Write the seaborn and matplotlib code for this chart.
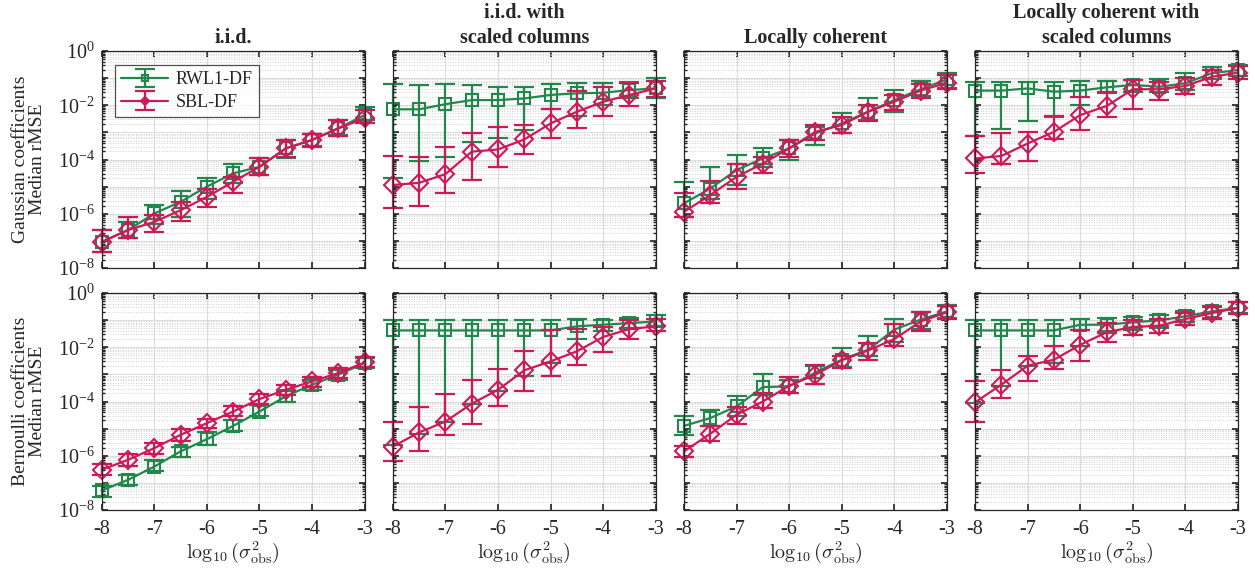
import numpy as np
import pandas as pd
import matplotlib
matplotlib.use("Agg")
import matplotlib.pyplot as plt
import matplotlib.ticker as mticker
from matplotlib.legend_handler import HandlerTuple
import seaborn as sns

# noise level (log10 of sigma^2_obs)
x_vals = [-8, -7.5, -7, -6.5, -6, -5.5, -5, -4.5, -4, -3.5, -3]

col_titles = ["i.i.d.", "i.i.d. with\nscaled columns",
              "Locally coherent", "Locally coherent with\nscaled columns"]
row_labels = ["Gaussian coefficients\nMedian rMSE", "Bernoulli coefficients\nMedian rMSE"]
methods = ["RWL1-DF", "SBL-DF"]

# all values are log10(rMSE); one list per column panel
rwl1_med_gauss = [
    [-7.04, -6.6, -5.99, -5.56, -5.0, -4.51, -4.27, -3.59, -3.28, -2.85, -2.36],
    [-2.15, -2.15, -1.96, -1.81, -1.81, -1.75, -1.62, -1.56, -1.54, -1.44, -1.38],
    [-5.62, -5.07, -4.39, -3.96, -3.59, -3.04, -2.67, -2.24, -1.81, -1.41, -1.05],
    [-1.46, -1.46, -1.38, -1.5, -1.46, -1.34, -1.25, -1.32, -1.19, -0.82, -0.7],
]
rwl1_lo_gauss = [
    [-7.4, -6.91, -6.36, -6.11, -5.44, -4.88, -4.58, -3.96, -3.5, -3.1, -2.55],
    [-4.7, -4.06, -3.92, -3.35, -3.22, -2.92, -2.12, -2.4, -1.99, -1.75, -1.75],
    [-6.11, -5.44, -4.94, -4.27, -4.02, -3.47, -3.04, -2.55, -2.24, -1.66, -1.38],
    [-3.14, -2.89, -2.57, -2.42, -1.99, -1.56, -1.5, -1.5, -1.44, -1.05, -0.92],
]
rwl1_hi_gauss = [
    [-6.58, -6.3, -5.68, -5.15, -4.7, -4.17, -3.96, -3.28, -3.06, -2.55, -2.05],
    [-1.22, -1.25, -1.22, -1.25, -1.34, -1.34, -1.22, -1.19, -1.17, -1.13, -1.01],
    [-4.82, -4.27, -3.84, -3.59, -3.28, -2.79, -2.3, -1.75, -1.44, -1.09, -0.82],
    [-1.13, -1.13, -1.13, -1.13, -1.09, -1.09, -1.07, -1.05, -0.82, -0.6, -0.52],
]
sbl_med_gauss = [
    [-7.04, -6.6, -6.3, -5.87, -5.38, -4.82, -4.27, -3.59, -3.28, -2.85, -2.48],
    [-4.94, -4.86, -4.54, -3.71, -3.63, -3.26, -2.67, -2.24, -1.87, -1.62, -1.38],
    [-5.93, -5.31, -4.64, -4.15, -3.59, -2.98, -2.73, -2.24, -1.87, -1.46, -1.17],
    [-3.96, -3.87, -3.41, -2.98, -2.36, -2.03, -1.41, -1.41, -1.29, -0.95, -0.8],
]
sbl_lo_gauss = [
    [-7.4, -6.91, -6.67, -6.26, -5.74, -5.23, -4.58, -3.9, -3.55, -3.14, -2.67],
    [-5.8, -5.72, -5.25, -4.76, -4.29, -3.78, -3.19, -2.85, -2.4, -2.03, -1.69],
    [-6.11, -5.62, -5.1, -4.51, -3.9, -3.28, -3.01, -2.57, -2.18, -1.75, -1.41],
    [-4.51, -4.17, -4.05, -3.26, -2.92, -2.45, -2.12, -1.81, -1.59, -1.25, -1.05],
]
sbl_hi_gauss = [
    [-6.58, -6.11, -6.05, -5.56, -5.1, -4.64, -3.96, -3.28, -3.06, -2.55, -2.18],
    [-3.87, -3.92, -3.53, -3.01, -2.79, -2.73, -2.15, -1.46, -1.32, -1.17, -1.09],
    [-5.25, -4.78, -4.17, -3.9, -3.28, -2.73, -2.45, -1.99, -1.62, -1.22, -0.89],
    [-3.14, -3.01, -2.98, -2.4, -1.71, -1.5, -1.07, -1.13, -1.01, -0.7, -0.55],
]

rwl1_med_bern = [
    [-7.28, -6.89, -6.4, -5.84, -5.39, -4.9, -4.37, -3.81, -3.38, -3.01, -2.58],
    [-1.38, -1.38, -1.38, -1.38, -1.38, -1.38, -1.38, -1.23, -1.17, -1.11, -1.05],
    [-4.9, -4.61, -4.18, -3.47, -3.44, -2.93, -2.46, -2.09, -1.35, -0.98, -0.68],
    [-1.38, -1.38, -1.38, -1.38, -1.17, -1.17, -1.08, -1.01, -0.86, -0.68, -0.55],
]
rwl1_lo_bern = [
    [-7.53, -7.07, -6.58, -6.03, -5.6, -5.07, -4.55, -4.0, -3.59, -3.2, -2.77],
    [-5.6, -5.19, -4.74, -4.08, -3.63, -3.05, -2.58, -1.7, -1.41, -1.29, -1.23],
    [-5.23, -4.92, -4.53, -3.75, -3.69, -3.35, -2.73, -2.34, -1.82, -1.33, -0.92],
    [-4.06, -3.44, -2.68, -2.58, -1.97, -1.48, -1.35, -1.29, -1.08, -0.92, -0.74],
]
rwl1_hi_bern = [
    [-7.11, -6.7, -6.17, -5.66, -5.14, -4.67, -4.12, -3.63, -3.2, -2.83, -2.4],
    [-1.01, -1.01, -1.01, -1.01, -1.01, -1.01, -1.01, -0.96, -0.98, -0.92, -0.8],
    [-4.55, -4.33, -3.79, -2.98, -3.2, -2.68, -2.03, -1.57, -0.96, -0.71, -0.43],
    [-1.01, -1.01, -1.01, -1.01, -0.96, -0.92, -0.89, -0.8, -0.68, -0.49, -0.34],
]
sbl_med_bern = [
    [-6.52, -6.15, -5.72, -5.23, -4.8, -4.37, -3.91, -3.57, -3.26, -2.95, -2.56],
    [-5.66, -5.14, -4.74, -4.08, -3.57, -2.85, -2.52, -2.15, -1.62, -1.33, -1.23],
    [-5.84, -5.19, -4.49, -4.0, -3.42, -3.01, -2.48, -2.12, -1.7, -1.05, -0.71],
    [-4.03, -3.38, -2.68, -2.46, -1.91, -1.45, -1.25, -1.21, -0.96, -0.74, -0.55],
]
sbl_lo_bern = [
    [-6.7, -6.37, -5.93, -5.47, -4.98, -4.55, -4.08, -3.75, -3.47, -3.14, -2.73],
    [-6.21, -5.81, -5.23, -4.82, -4.18, -3.63, -3.05, -2.64, -2.19, -1.7, -1.41],
    [-6.03, -5.47, -4.82, -4.24, -3.69, -3.35, -2.77, -2.46, -1.97, -1.41, -0.96],
    [-4.74, -3.87, -3.26, -2.8, -2.52, -1.82, -1.54, -1.48, -1.17, -0.96, -0.76],
]
sbl_hi_bern = [
    [-6.3, -5.93, -5.54, -5.02, -4.65, -4.18, -3.71, -3.38, -3.1, -2.77, -2.36],
    [-4.74, -4.21, -3.71, -3.2, -2.8, -2.13, -1.38, -1.33, -1.25, -1.01, -0.96],
    [-5.63, -4.92, -4.21, -3.69, -3.08, -2.64, -2.31, -1.85, -1.13, -0.71, -0.49],
    [-3.26, -2.83, -2.31, -1.97, -1.35, -1.11, -1.01, -0.96, -0.74, -0.52, -0.34],
]

# build a long table: each point gets three rows (lower, median, upper);
# median estimator + 100% percentile interval gives the asymmetric bars
stats = {
    ("Gaussian", "RWL1-DF"): (rwl1_lo_gauss, rwl1_med_gauss, rwl1_hi_gauss),
    ("Gaussian", "SBL-DF"): (sbl_lo_gauss, sbl_med_gauss, sbl_hi_gauss),
    ("Bernoulli", "RWL1-DF"): (rwl1_lo_bern, rwl1_med_bern, rwl1_hi_bern),
    ("Bernoulli", "SBL-DF"): (sbl_lo_bern, sbl_med_bern, sbl_hi_bern),
}
rows = []
for (coef, meth), arrs in stats.items():
    for c in range(4):
        for arr in arrs:
            for xv, v in zip(x_vals, arr[c]):
                rows.append({"coef": coef, "col": c, "method": meth,
                             "x": xv, "rmse": 10.0 ** v})
df = pd.DataFrame(rows)

sns.set_theme(style="ticks")
plt.rcParams["font.family"] = ["Liberation Serif", "DejaVu Serif"]
plt.rcParams["mathtext.fontset"] = "cm"
plt.rcParams["axes.unicode_minus"] = False

colors = {"RWL1-DF": "#22874a", "SBL-DF": "#cf1858"}
markers = {"RWL1-DF": "s", "SBL-DF": "D"}
msizes = {"RWL1-DF": 8.5, "SBL-DF": 8.8}

fig, axes = plt.subplots(2, 4, figsize=(12.55, 5.71), dpi=100, sharex=True, sharey=True)
fig.subplots_adjust(left=0.081, right=0.9865, top=0.9107, bottom=0.1068,
                    wspace=0.107, hspace=0.115)


def log_fmt(v, pos):
    e = int(round(np.log10(v)))
    if e % 2:
        return ""
    return r"$\mathdefault{10^{%d}}$" % e


for r, coef in enumerate(["Gaussian", "Bernoulli"]):
    for c in range(4):
        ax = axes[r, c]
        ax.set_yscale("log")
        sub = df[(df["coef"] == coef) & (df["col"] == c)]
        for meth in methods:
            d = sub[sub["method"] == meth]
            sns.lineplot(data=d, x="x", y="rmse", ax=ax, estimator="median",
                         errorbar=("pi", 100), err_style="bars",
                         color=colors[meth], marker=markers[meth],
                         markersize=msizes[meth], markerfacecolor="none",
                         markeredgecolor=colors[meth], markeredgewidth=1.5,
                         linewidth=1.6, label=meth, legend=False, clip_on=False,
                         err_kws={"capsize": 7, "elinewidth": 1.6, "capthick": 1.6,
                                  "clip_on": False})
        ax.set_xlim(-8, -3)
        ax.set_ylim(1e-8, 1)
        ax.xaxis.set_major_locator(mticker.MultipleLocator(1))
        ax.xaxis.set_major_formatter(mticker.FuncFormatter(lambda v, p: "%d" % v))
        ax.yaxis.set_major_locator(mticker.LogLocator(base=10, numticks=20))
        ax.yaxis.set_minor_locator(mticker.LogLocator(base=10, subs=np.arange(2, 10), numticks=20))
        ax.yaxis.set_major_formatter(mticker.FuncFormatter(log_fmt))
        ax.yaxis.set_minor_formatter(mticker.NullFormatter())
        ax.grid(True, which="major", color="#dcdcdc", linewidth=0.8)
        ax.grid(True, which="minor", axis="y", color="#cfcfcf", linestyle=":", linewidth=0.7)
        ax.set_axisbelow(True)
        ax.tick_params(which="both", direction="in", top=True, right=True,
                       labelsize=14.5, color="#262626")
        ax.tick_params(which="major", length=4)
        ax.tick_params(which="minor", length=2)
        ax.tick_params(axis="x", pad=7)
        ax.tick_params(axis="y", pad=5)
        for s in ax.spines.values():
            s.set_color("#262626")
            s.set_linewidth(0.9)
        ax.set_xlabel(r"$\log_{10}(\sigma^2_{\mathrm{obs}})$" if r == 1 else "",
                      fontsize=14.5, labelpad=0)
        ax.set_ylabel(row_labels[r] if c == 0 else "", fontsize=14, linespacing=1.05,
                      labelpad=8)
        if r == 0:
            ax.set_title(col_titles[c], fontsize=14.5, fontweight="bold",
                         pad=6, linespacing=1.3)

# legend with error-bar glyph and line/marker combined
ax0 = axes[0, 0]
lines = [l for l in ax0.lines if l.get_label() in methods]
handles = [(cont, ln) for cont, ln in zip(ax0.containers, lines)]
leg = ax0.legend(handles, methods, loc="upper left", bbox_to_anchor=(0.05, 0.935),
                 borderaxespad=0, fontsize=13, frameon=True, fancybox=False,
                 edgecolor="#262626", markerscale=0.45, handlelength=2.6,
                 handletextpad=0.4, borderpad=0.35, labelspacing=0.3,
                 handler_map={tuple: HandlerTuple(ndivide=1, pad=0)})
leg.get_frame().set_linewidth(0.9)

plt.savefig("out.png", dpi=100)
